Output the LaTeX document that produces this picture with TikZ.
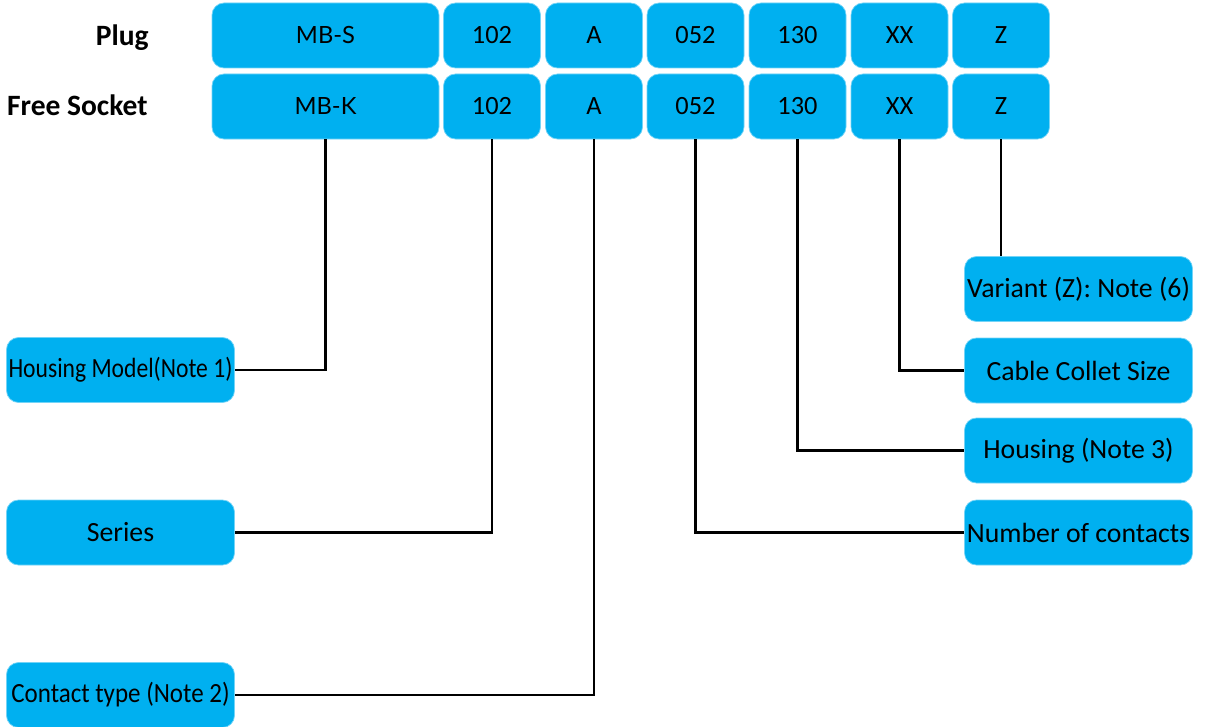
\documentclass[tikz,border=0pt]{standalone}
\usepackage{fontspec}
\setmainfont{Carlito}
\newfontfamily\codefont{Lato}
\newfontfamily\narrowfont[FakeStretch=0.85]{Carlito}
\newfontfamily\halfnarrowfont[FakeStretch=0.9]{Carlito}
\definecolor{partblue}{HTML}{00B0F0}

\begin{document}
\begin{tikzpicture}[x=0.2mm,y=-0.2mm]

      \useasboundingbox (0,0) rectangle (1205,727);

      \tikzset{
        codebox/.style={rounded corners=2.4mm, fill=partblue, draw=partblue!55!white,
          line width=0.4pt, minimum height=13mm, inner sep=1pt,
          font=\fontsize{15}{18}\selectfont},
        keybox/.style={codebox, minimum width=45.6mm, font=\fontsize{15.8}{18}\selectfont},
        rowlabel/.style={anchor=east, inner sep=0pt, font=\fontsize{16.8}{19}\selectfont\bfseries},
        leader/.style={draw, line width=1.15pt}
      }

      % code boxes
      \begin{scope}[every node/.style={codebox, minimum width=19.4mm}]
        \node[minimum width=45.4mm, font=\fontsize{13.5}{16}\selectfont\codefont] (mbs) at (325.5,35.5) {MB-S};
        \node (s102) at (492,35.5)   {102};
        \node (sa)   at (594,35.5)   {A};
        \node (s052) at (695.5,35.5) {052};
        \node (s130) at (797.5,35.5) {130};
        \node (sxx)  at (899.5,35.5) {XX};
        \node (sz)   at (1001,35.5)  {Z};

        \node[minimum width=45.4mm, font=\fontsize{13.5}{16}\selectfont\codefont] (mbk) at (325.5,106.5) {MB-K};
        \node (k102) at (492,106.5)   {102};
        \node (ka)   at (594,106.5)   {A};
        \node (k052) at (695.5,106.5) {052};
        \node (k130) at (797.5,106.5) {130};
        \node (kxx)  at (899.5,106.5) {XX};
        \node (kz)   at (1001,106.5)  {Z};
      \end{scope}

      \node[rowlabel] (plug)   at (149,38)  {Plug};
      \node[rowlabel] (socket) at (148,105) {Free Socket};

      % legend boxes
      \begin{scope}[every node/.style={keybox}]
        \node[font=\fontsize{15.8}{18}\narrowfont] (hmodel) at (120.5,370) {Housing Model(Note 1)};
        \node (series)  at (120.5,532.5) {Series};
        \node[font=\fontsize{15.8}{18}\halfnarrowfont] (ctype) at (120.5,695) {Contact type (Note 2)};
        \node (variant) at (1078.5,289) {Variant (Z): Note (6)};
        \node (collet)  at (1078.5,370.5) {Cable Collet Size};
        \node (housing) at (1078.5,450.5) {Housing (Note 3)};
        \node (ncont)   at (1078.5,532.5) {Number of contacts};
      \end{scope}

      \begin{scope}[every path/.style={leader}]
        \path (mbk.south)  |- (hmodel.east);
        \path (k102.south) |- (series.east);
        \path (ka.south)   |- (ctype.east);
        \path (k052.south) |- (ncont.west);
        \path (k130.south) |- (housing.west);
        \path (kxx.south)  |- (collet.west);
        \path (kz.south)   -- (kz.south |- variant.north);
      \end{scope}

    \end{tikzpicture}
\end{document}
